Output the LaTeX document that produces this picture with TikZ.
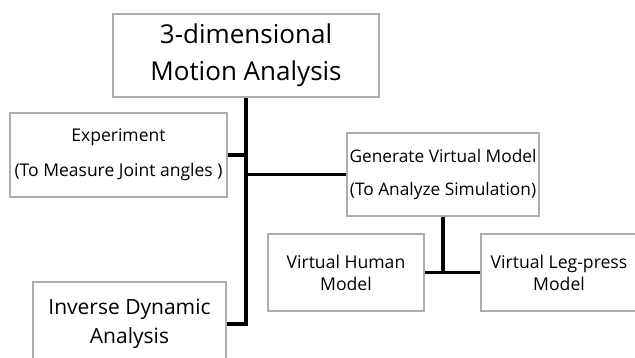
\documentclass[tikz,border=0pt]{standalone}
\usepackage{fontspec}
\setmainfont{Open Sans}
\tikzset{
  mab box/.style={
    rectangle,draw=black!32,fill=white,line width=1.2pt,
    inner sep=0pt,align=center
  },
  mab link/.style={black,line width=3.4pt},
  mab thin/.style={black,line width=2.4pt}
}
\newcommand{\mabfont}[2]{\fontsize{#1}{#2}\selectfont}

\begin{document}
\begin{tikzpicture}[x=1pt,y=-1pt]
  \useasboundingbox (0,0) rectangle (635,358);
  \node[mab box,minimum width=266pt,minimum height=83pt,font=\mabfont{26}{37}]
    (top) at (246,55.5) {3-dimensional\\Motion Analysis};
  \node[mab box,minimum width=217pt,minimum height=84pt,font=\mabfont{17.5}{35}]
    (exp) at (118.5,155) {Experiment\\(To Measure Joint angles )};
  \node[mab box,minimum width=192pt,minimum height=83pt,font=\mabfont{17.3}{33}]
    (gen) at (443,174.5) {Generate Virtual Model\\(To Analyze Simulation)};
  \node[mab box,minimum width=156pt,minimum height=77pt,font=\mabfont{17.6}{22}]
    (hum) at (346,272.5) {Virtual Human\\Model};
  \node[mab box,minimum width=156pt,minimum height=77pt,font=\mabfont{17.6}{22}]
    (leg) at (559,272.5) {Virtual Leg-press\\Model};
  \node[mab box,minimum width=193pt,minimum height=84pt,font=\mabfont{21}{29}]
    (inv) at (129.5,324) {Inverse Dynamic\\Analysis};
  \coordinate (jexp) at (top.south |- exp.east);
  \coordinate (jgen) at (top.south |- gen.west);
  \coordinate (jinv) at (top.south |- inv.east);
  \coordinate (jleg) at (gen.south |- hum.east);
  \draw[mab link] (top.south)--(jinv)--(inv.east);
  \draw[mab link] (exp.east)--(jexp);
  \draw[mab thin] (jgen)--(gen.west);
  \draw[mab link] (gen.south)--(jleg);
  \draw[mab thin] (hum.east)--(leg.west);
\end{tikzpicture}
\end{document}
